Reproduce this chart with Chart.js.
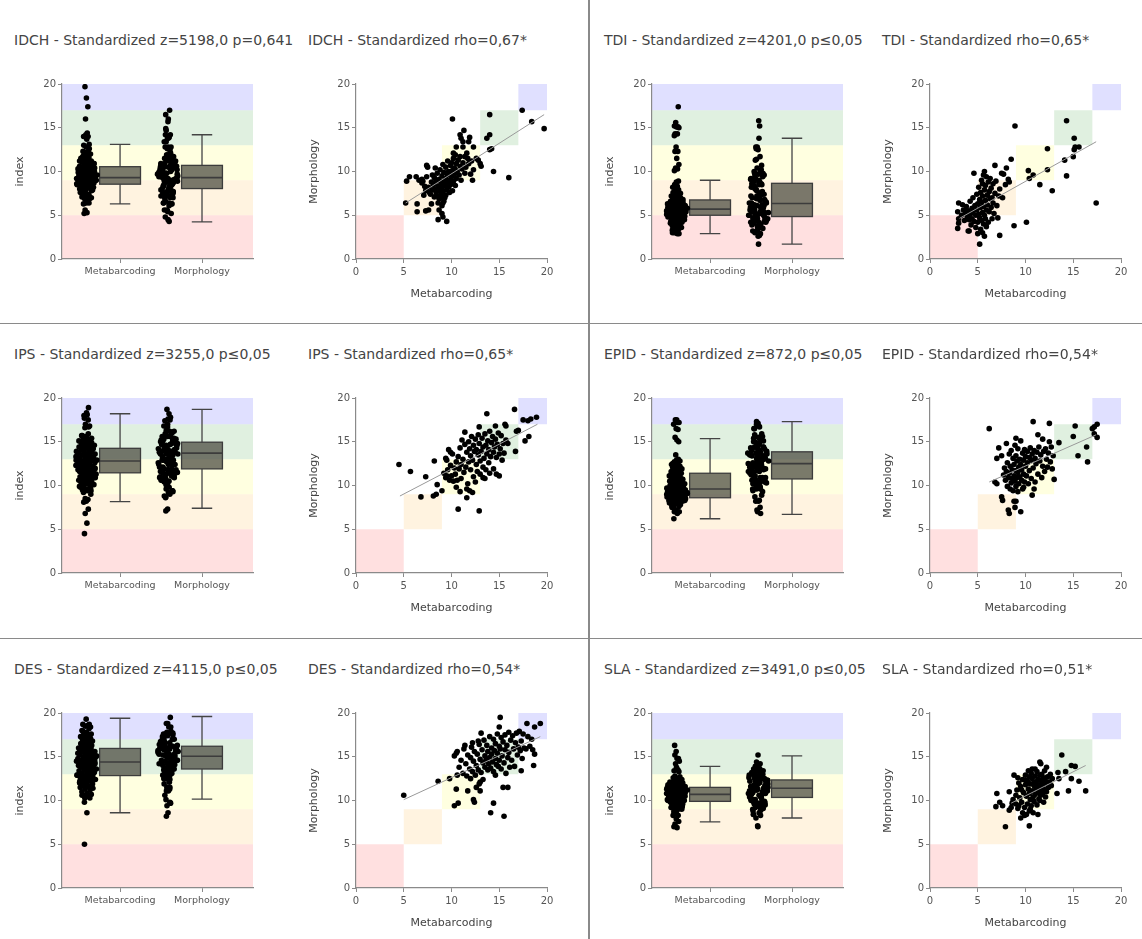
<!DOCTYPE html>
<html>
<head>
<meta charset="utf-8">
<script src="https://cdn.jsdelivr.net/npm/chart.js@4.4.1/dist/chart.umd.min.js"></script>
<style>
  body { margin: 0; width: 1142px; height: 939px; overflow: hidden; background: #fff; position: relative; }
  canvas { position: absolute; }
  .sep { position: absolute; background: #8a8a8a; }
  .ttl { position: absolute; font-family: 'DejaVu Sans'; font-size: 14px; line-height: 18px; color: #444; white-space: nowrap; }
</style>
</head>
<body>
<div class="sep" style="left:588px;top:0;width:1.5px;height:939px"></div>
<div class="sep" style="left:0;top:322.5px;width:1142px;height:1.5px"></div>
<div class="sep" style="left:0;top:637.5px;width:1142px;height:1.5px"></div>
<script>
// indices and stats shown in the titles
const indexNames = ['IDCH', 'TDI', 'IPS', 'EPID', 'DES', 'SLA'];
const zValues = ['5198,0', '4201,0', '3255,0', '872,0', '4115,0', '3491,0'];
const pValues = ['p=0,641', 'p≤0,05', 'p≤0,05', 'p≤0,05', 'p≤0,05', 'p≤0,05'];
const rhoValues = ['0,67*', '0,65*', '0,65*', '0,54*', '0,54*', '0,51*'];
const methods = ['Metabarcoding', 'Morphology'];

// quality classes (bad .. high)
const classBounds = [0, 5, 9, 13, 17, 20];
const classColors = ['rgba(255,0,0,0.12)', 'rgba(255,160,0,0.12)', 'rgba(255,255,0,0.12)', 'rgba(0,128,0,0.12)', 'rgba(0,0,255,0.12)'];

// box stats per method: [lower whisker, q1, median, q3, upper whisker]
const idchBoxes = [[6.3, 8.55, 9.3, 10.55, 13.1], [4.25, 8.05, 9.3, 10.7, 14.2]];
const tdiBoxes = [[2.9, 5.0, 5.7, 6.75, 9.0], [1.7, 4.85, 6.35, 8.65, 13.8]];
const ipsBoxes = [[8.15, 11.45, 12.8, 14.25, 18.2], [7.4, 11.9, 13.7, 14.95, 18.7]];
const epidBoxes = [[6.2, 8.6, 9.6, 11.4, 15.35], [6.7, 10.75, 12.5, 13.85, 17.3]];
const desBoxes = [[8.6, 12.85, 14.4, 15.95, 19.4], [10.15, 13.6, 15.05, 16.2, 19.6]];
const slaBoxes = [[7.55, 9.9, 10.7, 11.5, 13.9], [8.0, 10.35, 11.4, 12.35, 15.1]];

// regression line end points [metabarcoding, morphology]
const idchFit = [[5.2, 6.4], [19.7, 16.5]];
const tdiFit = [[3.1, 4.65], [17.4, 13.4]];
const ipsFit = [[4.6, 8.8], [19.0, 17.0]];
const epidFit = [[6.2, 10.4], [17.4, 15.8]];
const desFit = [[5.0, 10.1], [19.3, 17.3]];
const slaFit = [[8.5, 9.7], [16.3, 14.0]];

// samples [metabarcoding, morphology]
const idchPoints = [
  [5.2,6.4],[5.3,8.9],[5.6,9.4],[6.4,6.3],[6.4,5.4],[6.3,9.4],[6.6,9.0],[6.9,8.7],[7.0,8.9],[7.2,8.3],[7.4,9.4],[6.9,9.1],
  [7.3,5.5],[7.6,5.6],[7.4,10.7],[7.5,10.5],[7.9,6.3],[8.6,4.5],[9.1,4.8],[9.5,4.3],[8.7,5.6],[9.0,5.2],[9.1,6.4],
  [7.6,8.2],[7.8,7.4],[7.9,8.8],[8.0,7.9],[8.1,8.5],[8.2,7.1],[8.2,9.3],[8.3,8.0],[8.4,7.6],[8.4,8.9],[8.5,9.8],[8.5,7.2],
  [8.6,8.3],[8.7,6.9],[8.7,9.1],[8.8,7.8],[8.8,10.2],[8.9,8.6],[8.9,7.4],[9.0,9.5],[9.0,8.1],[9.1,10.8],[9.1,7.7],[9.2,8.9],
  [9.2,9.9],[9.3,7.0],[9.3,8.4],[9.4,9.2],[9.4,10.5],[9.5,7.9],[9.5,8.7],[9.6,9.6],[9.6,11.2],[9.7,8.2],[9.7,10.0],[9.8,7.6],
  [9.8,9.0],[9.9,10.7],[9.9,8.5],[10.0,9.4],[10.0,11.0],[10.1,7.8],[10.1,10.1],[10.2,8.9],[10.2,11.5],[10.3,9.7],[10.3,10.4],
  [10.4,8.4],[10.5,10.9],[10.5,9.2],[10.6,10.0],[10.7,11.3],[10.8,9.6],[10.9,10.6],[11.0,9.0],[11.1,10.3],[11.2,11.0],[11.4,9.8],
  [11.5,10.5],[11.6,12.1],[11.8,10.9],[12.0,9.7],[12.1,11.2],[8.0,9.6],[8.3,10.4],[7.7,7.6],[8.6,6.4],[9.0,6.1],[9.2,6.6],
  [8.9,7.0],[9.4,7.3],[7.1,7.3],[7.3,7.8],[9.8,9.8],[10.4,10.2],
  [10.1,16.0],[11.3,14.7],[10.9,14.2],[11.0,13.8],[11.2,13.4],[11.9,13.9],[11.8,13.4],[10.5,12.8],[11.2,12.8],[12.3,12.8],
  [10.2,12.1],[10.4,11.9],[10.9,11.7],[11.4,11.7],[11.7,11.5],[12.6,11.5],[12.8,11.3],[13.0,10.9],[12.3,10.2],[12.2,9.0],
  [13.1,10.6],[13.7,13.8],[14.0,14.2],[14.0,12.5],[14.2,12.6],[14.0,16.5],[14.4,10.0],[16.0,9.3],[17.4,17.0],[18.4,15.7],[19.7,14.9]
];
const tdiPoints = [
  [3.0,6.4],[2.9,5.4],[3.0,4.1],[2.9,3.5],[3.0,4.6],[3.3,5.0],[3.4,6.2],[3.5,5.6],[3.6,4.4],[3.7,5.2],[3.8,6.0],[3.9,4.8],
  [4.0,3.2],[4.1,3.2],[4.0,5.5],[4.1,4.5],[4.2,6.6],[4.2,5.1],[4.3,3.9],[4.4,5.8],[4.4,4.6],[4.5,5.3],[4.5,7.0],[4.6,9.8],
  [4.6,4.3],[4.7,6.1],[4.8,5.0],[4.8,3.6],[4.9,5.6],[4.9,7.4],[5.0,4.2],[5.0,6.3],[5.0,2.9],[5.1,5.1],[5.1,8.2],[5.2,1.7],
  [5.2,4.7],[5.2,6.8],[5.3,3.4],[5.3,5.9],[5.3,7.6],[5.4,4.4],[5.4,6.5],[5.4,9.0],[5.5,3.0],[5.5,5.3],[5.5,7.2],[5.5,8.6],
  [5.6,4.0],[5.6,6.0],[5.6,9.6],[5.7,2.6],[5.7,10.0],[5.7,5.0],[5.7,7.9],[5.8,4.6],[5.8,6.7],[5.8,8.4],[5.9,9.4],[5.9,3.7],
  [5.9,5.6],[6.0,7.3],[6.0,6.2],[6.1,4.2],[6.1,8.8],[6.2,5.4],[6.2,7.7],[6.3,6.9],[6.3,9.2],[6.4,5.9],[6.4,8.1],[6.5,4.6],
  [6.5,7.0],[6.6,6.4],[6.6,8.6],[6.7,5.2],[6.8,10.7],[6.8,7.5],[6.9,8.9],[7.0,6.1],[7.1,4.7],[7.2,7.2],[7.3,2.7],[7.3,8.0],
  [7.5,9.8],[7.7,9.7],[7.6,7.0],[7.9,8.5],[8.0,10.4],[8.2,9.1],[8.3,8.8],[8.5,11.4],[8.9,15.2],[8.8,3.8],[10.1,4.2],
  [10.3,10.1],[10.4,9.2],[10.8,9.6],[11.5,8.5],[12.3,12.6],[12.3,10.2],[12.8,7.8],[14.1,11.3],[14.3,15.8],[14.3,9.5],
  [15.0,11.7],[15.1,12.5],[15.2,12.8],[15.1,13.8],[15.6,12.8],[17.4,6.4]
];
const ipsPoints = [
  [4.5,12.4],[5.7,11.6],[6.8,8.7],[7.3,11.0],[8.2,12.8],[8.1,8.8],[8.4,9.0],[8.5,10.1],[9.0,9.4],[9.4,13.1],[9.5,12.9],
  [9.7,14.1],[10.7,7.3],[12.9,7.1],[13.7,18.2],[16.6,18.7],[18.9,17.8],[18.3,17.6],[18.0,17.4],[17.5,17.5],[17.0,16.3],
  [16.8,16.2],[18.1,15.6],[17.7,15.1],[16.7,13.9],[15.6,17.0],[15.7,16.8],[15.9,14.8],[11.6,9.6],[11.9,9.4],[12.2,9.2],
  [11.6,8.6],[14.0,11.4],[14.7,11.3],[13.3,10.9],[13.0,11.3],
  [9.2,11.4],[9.4,10.9],[9.6,11.8],[9.8,10.6],[9.9,12.3],[10.0,11.1],[10.1,13.6],[10.2,10.5],[10.3,12.0],[10.4,11.3],
  [10.5,12.7],[10.6,10.6],[10.7,13.3],[10.8,11.9],[10.9,14.3],[11.0,12.4],[11.0,10.8],[11.1,15.2],[11.2,13.0],[11.3,11.5],
  [11.4,14.7],[11.5,12.1],[11.6,13.8],[11.7,10.2],[11.8,15.0],[11.8,12.7],[11.9,14.2],[12.0,11.8],[12.0,13.4],[12.1,15.6],
  [12.2,12.9],[12.3,14.6],[12.3,11.0],[12.4,13.9],[12.5,15.3],[12.6,12.4],[12.6,14.1],[12.7,11.6],[12.8,13.5],[12.8,15.8],
  [12.9,14.8],[13.0,12.8],[13.1,13.9],[13.2,15.4],[13.3,14.4],[13.3,12.1],[13.4,13.1],[13.5,15.9],[13.6,14.6],[13.6,11.8],
  [13.7,13.6],[13.8,15.1],[13.9,14.1],[13.9,12.6],[14.0,16.2],[14.1,13.3],[14.2,14.9],[14.3,15.6],[14.4,13.8],[14.4,11.9],
  [14.5,14.4],[14.6,15.3],[14.7,13.2],[14.8,14.7],[14.9,16.0],[15.0,13.6],[15.1,14.2],[15.2,15.7],[15.3,12.9],[15.4,14.8],
  [15.5,13.7],[15.7,15.2],[15.0,11.1],[13.5,10.8],[10.9,9.3],[10.5,9.8],[12.5,10.4],[11.4,16.1],[12.9,16.7],[9.9,13.8],
  [9.5,11.1],[14.6,16.8]
];
const epidPoints = [
  [6.2,16.5],[6.8,10.4],[7.0,10.2],[7.0,13.1],[7.2,14.3],[7.5,8.7],[7.6,8.3],[8.2,7.2],[8.3,6.8],[8.8,8.2],[9.0,8.2],
  [8.9,7.5],[9.5,7.0],[9.0,15.4],[9.8,9.8],[10.8,17.3],[10.7,8.9],[12.5,17.1],[11.3,15.8],[13.0,10.7],[13.5,14.9],
  [15.0,15.6],[15.2,16.8],[15.5,13.4],[16.4,14.4],[16.5,12.7],[17.0,16.5],[17.2,16.7],[17.5,17.0],[17.2,15.9],[17.5,15.5],
  [7.7,11.2],[7.8,12.0],[7.9,10.6],[8.0,11.6],[8.1,9.9],[8.1,12.6],[8.2,10.9],[8.3,13.6],[8.3,11.4],[8.4,9.6],[8.4,12.2],
  [8.5,10.3],[8.5,14.0],[8.6,11.8],[8.6,10.8],[8.7,13.1],[8.7,9.4],[8.8,12.4],[8.8,11.1],[8.9,10.5],[8.9,14.6],[9.0,11.7],
  [9.0,13.4],[9.0,9.9],[9.1,12.8],[9.1,10.9],[9.2,11.5],[9.2,14.2],[9.3,10.2],[9.3,12.1],[9.4,13.0],[9.4,11.0],[9.5,15.1],
  [9.5,12.4],[9.6,10.6],[9.6,11.8],[9.7,13.7],[9.7,9.6],[9.8,12.9],[9.8,11.3],[9.9,10.4],[9.9,14.1],[10.0,12.2],[10.0,13.3],
  [10.1,11.1],[10.2,13.9],[10.2,12.6],[10.3,10.2],[10.4,13.2],[10.4,11.7],[10.5,14.3],[10.6,12.9],[10.6,10.8],[10.7,13.6],
  [10.8,12.0],[10.9,14.0],[11.0,13.1],[11.0,10.4],[11.1,12.5],[11.2,13.8],[11.3,11.3],[11.4,14.4],[11.5,12.8],[11.6,13.5],
  [11.7,10.9],[11.8,12.2],[11.9,13.9],[12.0,11.6],[12.1,14.2],[12.2,13.0],[12.3,12.1],[12.4,13.7],[12.6,12.7],[12.7,14.4],
  [12.8,11.9],[12.9,13.4],[12.5,15.0],[11.8,15.3],[10.9,9.6],[9.2,9.3],[8.0,14.8],[7.5,13.4]
];
const desPoints = [
  [5.0,10.6],[8.6,12.2],[9.8,12.5],[10.3,15.1],[10.5,15.4],[10.6,12.9],[10.5,11.3],[10.3,9.4],[10.7,9.7],[11.7,11.1],
  [12.3,10.1],[12.4,9.8],[12.6,11.5],[12.9,11.9],[13.0,12.1],[13.0,11.1],[14.4,9.7],[14.1,8.6],[15.5,8.2],[15.4,11.5],
  [15.9,11.5],[15.1,19.5],[15.0,18.4],[17.9,18.8],[18.7,18.4],[19.3,18.8],[18.7,15.3],[18.6,14.0],[17.3,13.4],[18.4,17.0],
  [10.8,13.8],[11.0,14.6],[11.2,13.1],[11.3,15.9],[11.5,14.2],[11.6,12.8],[11.7,15.2],[11.9,13.6],[12.0,14.9],[12.1,16.1],
  [12.2,13.3],[12.3,14.5],[12.4,15.6],[12.5,12.9],[12.6,14.0],[12.7,15.3],[12.8,13.5],[12.9,16.4],[13.0,14.7],[13.1,13.2],
  [13.2,15.8],[13.3,14.3],[13.4,16.9],[13.5,13.8],[13.5,15.1],[13.6,14.6],[13.7,16.3],[13.8,13.5],[13.8,15.6],[13.9,14.2],
  [14.0,17.3],[14.0,14.9],[14.1,13.7],[14.2,16.0],[14.2,15.3],[14.3,14.4],[14.4,17.0],[14.4,13.3],[14.5,15.7],[14.6,14.8],
  [14.6,16.5],[14.7,14.1],[14.8,15.4],[14.8,17.6],[14.9,13.9],[15.0,16.2],[15.0,14.6],[15.1,15.9],[15.2,17.2],[15.2,13.6],
  [15.3,15.1],[15.4,16.7],[15.5,14.3],[15.6,15.8],[15.6,17.5],[15.7,13.1],[15.8,16.3],[15.9,14.9],[16.0,17.8],[16.0,15.5],
  [16.1,13.8],[16.2,16.9],[16.3,14.6],[16.4,17.4],[16.5,15.9],[16.6,13.9],[16.7,16.6],[16.8,17.7],[16.9,15.2],[17.0,16.1],
  [17.1,17.9],[17.2,15.7],[17.3,16.8],[17.4,14.8],[17.5,17.6],[17.6,16.0],[17.8,15.9],[18.0,17.3],[18.2,16.2],[18.5,15.8],
  [11.4,16.3],[12.2,16.6],[12.8,16.8],[13.1,17.7],[10.6,15.6],[12.0,12.5],[13.3,12.4],[14.6,12.9]
];
const slaPoints = [
  [7.0,10.8],[6.9,9.3],[7.3,9.8],[7.6,9.4],[7.9,7.0],[8.3,11.0],[8.3,8.9],[8.5,9.2],[9.0,9.6],[9.3,9.4],[9.5,8.0],[9.9,8.3],
  [10.4,7.1],[11.3,8.4],[10.7,13.6],[11.5,14.4],[13.3,10.8],[13.8,15.2],[13.4,13.2],[13.5,12.5],[14.2,13.3],[14.5,11.1],
  [14.8,14.0],[15.2,13.9],[14.8,12.5],[15.6,12.2],[16.3,11.1],
  [9.4,10.3],[9.5,11.6],[9.6,9.8],[9.7,12.4],[9.8,10.9],[9.9,9.2],[10.0,11.8],[10.0,12.9],[10.1,10.5],[10.2,9.6],[10.2,12.2],
  [10.3,11.3],[10.4,8.8],[10.4,12.7],[10.5,10.1],[10.5,11.9],[10.6,9.4],[10.6,13.1],[10.7,11.1],[10.7,12.5],[10.8,10.4],
  [10.8,8.6],[10.9,11.7],[10.9,9.9],[11.0,12.8],[11.0,10.7],[11.1,11.4],[11.1,12.1],[11.2,9.5],[11.2,13.3],[11.3,10.9],
  [11.3,12.4],[11.4,11.8],[11.4,10.2],[11.5,12.9],[11.5,11.2],[11.6,12.3],[11.6,10.6],[11.7,11.6],[11.7,13.0],[11.8,12.0],
  [11.8,10.8],[11.9,12.6],[11.9,11.3],[12.0,13.4],[12.0,11.9],[12.1,12.2],[12.2,11.0],[12.3,12.7],[12.4,11.5],[12.5,12.1],
  [12.6,13.0],[12.7,11.7],[9.1,11.2],[9.2,12.6],[9.0,10.6],[8.8,12.9],[9.3,12.0],[10.3,13.4],[11.0,13.6],[11.6,14.2],
  [12.2,13.8],[10.1,8.4],[9.7,8.6],[8.7,10.1],[9.2,9.1],[8.6,9.7],[10.5,9.0],[11.9,9.8],[12.8,12.5],[10.0,12.3],[10.9,12.0],
  [11.3,11.6],[10.4,10.8],[9.6,11.2],[11.5,10.0],[12.1,10.4]
];

// positions on the 0..1 category axis of the box panels
const stripCenters = [0.128, 0.555];
const boxCenters = [0.304, 0.733];
const boxHalf = 0.107;

const panels = [
  { points: idchPoints, boxes: idchBoxes, fit: idchFit },
  { points: tdiPoints, boxes: tdiBoxes, fit: tdiFit },
  { points: ipsPoints, boxes: ipsBoxes, fit: ipsFit },
  { points: epidPoints, boxes: epidBoxes, fit: epidFit },
  { points: desPoints, boxes: desBoxes, fit: desFit },
  { points: slaPoints, boxes: slaBoxes, fit: slaFit }
];

const FONT = 'DejaVu Sans';
const axisGray = '#8a8a8a';

// spread strip points sideways, wider where values are dense
function strip(values, center, halfW) {
  const dens = values.map(v => values.filter(w => Math.abs(w - v) < 0.8).length);
  const dmax = Math.max(...dens);
  return values.map((v, i) => {
    const u = ((i * 0.6180339887) % 1) * 2 - 1;
    const w = halfW * (0.15 + 0.85 * dens[i] / dmax);
    return { x: center + u * w, y: v };
  });
}

const bandsPlugin = {
  id: 'bands',
  beforeDraw(chart, args, opts) {
    const { ctx, chartArea, scales: { x, y } } = chart;
    ctx.save();
    for (let k = 0; k < classColors.length; k++) {
      const y0 = y.getPixelForValue(classBounds[k]);
      const y1 = y.getPixelForValue(classBounds[k + 1]);
      ctx.fillStyle = classColors[k];
      if (opts.diagonal) {
        const x0 = x.getPixelForValue(classBounds[k]);
        const x1 = x.getPixelForValue(classBounds[k + 1]);
        ctx.fillRect(x0, y1, x1 - x0, y0 - y1);
      } else {
        ctx.fillRect(chartArea.left, y1, chartArea.right - chartArea.left, y0 - y1);
      }
    }
    ctx.restore();
  }
};

const boxPlugin = {
  id: 'boxes',
  beforeDatasetsDraw(chart, args, opts) {
    if (!opts.stats) return;
    const { ctx, scales: { x, y } } = chart;
    ctx.save();
    opts.stats.forEach((s, i) => {
      const [lo, q1, med, q3, hi] = s.map(v => y.getPixelForValue(v));
      const xc = x.getPixelForValue(boxCenters[i]);
      const xl = x.getPixelForValue(boxCenters[i] - boxHalf);
      const xr = x.getPixelForValue(boxCenters[i] + boxHalf);
      const cap = (xr - xl) / 4;
      ctx.strokeStyle = '#444';
      ctx.lineWidth = 1.3;
      ctx.beginPath();
      ctx.moveTo(xc, q3); ctx.lineTo(xc, hi);
      ctx.moveTo(xc - cap, hi); ctx.lineTo(xc + cap, hi);
      ctx.moveTo(xc, q1); ctx.lineTo(xc, lo);
      ctx.moveTo(xc - cap, lo); ctx.lineTo(xc + cap, lo);
      ctx.stroke();
      ctx.fillStyle = 'rgba(70,70,60,0.72)';
      ctx.fillRect(xl, q3, xr - xl, q1 - q3);
      ctx.strokeStyle = '#3c3c3c';
      ctx.strokeRect(xl, q3, xr - xl, q1 - q3);
      ctx.lineWidth = 1.6;
      ctx.beginPath();
      ctx.moveTo(xl, med); ctx.lineTo(xr, med);
      ctx.stroke();
    });
    ctx.restore();
  }
};

function makeCanvas(left, top, title, titleLeft) {
  const t = document.createElement('div');
  t.className = 'ttl';
  t.textContent = title;
  t.style.left = titleLeft + 'px';
  t.style.top = (top + 30.5) + 'px';
  document.body.appendChild(t);
  const c = document.createElement('canvas');
  c.width = 290; c.height = 315;
  c.style.left = left + 'px'; c.style.top = top + 'px';
  document.body.appendChild(c);
  return c.getContext('2d');
}

function yAxis(title) {
  return {
    min: 0, max: 20,
    afterFit: s => { s.width = 48; },
    ticks: { stepSize: 5, color: '#555', font: { family: FONT, size: 10 }, padding: 2 },
    grid: { drawOnChartArea: false, drawTicks: true, tickLength: 4, color: axisGray },
    border: { color: axisGray, width: 1.2 },
    title: { display: true, text: title, color: '#444', font: { family: FONT, size: 11 }, padding: 0 }
  };
}

const rowTops = [0, 314.3, 629.3];
Chart.defaults.animation = false;

panels.forEach((p, i) => {
  const col = i % 2, row = Math.floor(i / 2);
  const top = rowTops[row];
  const meta = p.points.map(d => d[0]);
  const morph = p.points.map(d => d[1]);

  // box + strip panel
  const boxLeft = col ? 590 : 0;
  new Chart(makeCanvas(boxLeft, top, indexNames[i] + ' - Standardized z=' + zValues[i] + ' ' + pValues[i], boxLeft + 14), {
    type: 'scatter',
    data: {
      datasets: [meta, morph].map((vals, k) => ({
        data: strip(vals, stripCenters[k], 0.058),
        backgroundColor: '#000', borderWidth: 0, pointRadius: 2.8
      }))
    },
    options: {
      responsive: false, devicePixelRatio: 1,
      layout: { padding: { left: 14, right: 37, top: 84, bottom: 0 } },
      plugins: {
        legend: { display: false }, tooltip: { enabled: false }, title: { display: false },
        bands: { diagonal: false },
        boxes: { stats: p.boxes }
      },
      scales: {
        x: {
          type: 'linear', min: 0, max: 1,
          afterFit: s => { s.height = 56; },
          afterBuildTicks: s => { s.ticks = boxCenters.map(v => ({ value: v })); },
          ticks: { color: '#555', font: { family: FONT, size: 9.5 }, padding: 3, maxRotation: 0, autoSkip: false,
                   callback: (v, idx) => methods[idx] },
          grid: { drawOnChartArea: false, drawTicks: true, tickLength: 4, color: axisGray },
          border: { color: axisGray, width: 1.2 }
        },
        y: yAxis('index')
      }
    },
    plugins: [bandsPlugin, boxPlugin]
  });

  // correlation panel
  const scLeft = col ? 864 : 290;
  new Chart(makeCanvas(scLeft, top, indexNames[i] + ' - Standardized rho=' + rhoValues[i], scLeft + 18), {
    type: 'scatter',
    data: {
      datasets: [
        { type: 'line', data: p.fit.map(d => ({ x: d[0], y: d[1] })), borderColor: '#999', borderWidth: 1, pointRadius: 0 },
        { data: p.points.map(d => ({ x: d[0], y: d[1] })), backgroundColor: '#000', borderWidth: 0, pointRadius: 2.8 }
      ]
    },
    options: {
      responsive: false, devicePixelRatio: 1,
      layout: { padding: { left: 18, right: 33, top: 84, bottom: 0 } },
      plugins: {
        legend: { display: false }, tooltip: { enabled: false }, title: { display: false },
        bands: { diagonal: true },
        boxes: { stats: null }
      },
      scales: {
        x: {
          type: 'linear', min: 0, max: 20,
          afterFit: s => { s.height = 56; },
          ticks: { stepSize: 5, color: '#555', font: { family: FONT, size: 10 }, padding: 3, maxRotation: 0 },
          grid: { drawOnChartArea: false, drawTicks: true, tickLength: 4, color: axisGray },
          border: { color: axisGray, width: 1.2 },
          title: { display: true, text: 'Metabarcoding', color: '#444', font: { family: FONT, size: 11 }, padding: { top: 0, bottom: 14 } }
        },
        y: yAxis('Morphology')
      }
    },
    plugins: [bandsPlugin, boxPlugin]
  });
});
</script>
</body>
</html>
